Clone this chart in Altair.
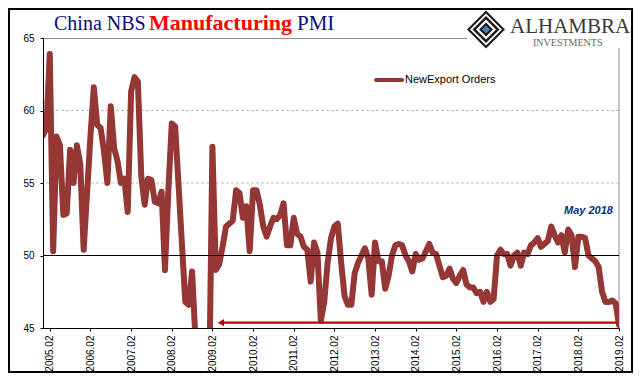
import altair as alt
import pandas as pd

# ---------------- data ----------------
series_name = "NewExport Orders"
first_month = "2004.12"          # index 0 of the series
export_orders = [
    58.3, 58.8, 63.9, 50.3, 58.2, 57.6, 52.8, 52.9, 57.3, 55.0,
    57.6, 56.3, 50.4, 54.3, 58.2, 61.6, 59.0, 58.8, 57.2, 55.0,
    60.3, 57.4, 56.5, 55.0, 55.3, 53.0, 61.3, 62.3, 62.0, 55.5,
    53.5, 55.3, 55.2, 53.7, 53.6, 54.4, 49.0, 54.5, 59.1, 58.9,
    54.9, 50.8, 46.8, 46.6, 48.9, 44.2, 32.0, 34.0, 36.0, 40.0,
    57.5, 49.0, 49.4, 50.6, 52.0, 52.2, 52.4, 54.5, 54.3, 52.6,
    53.4, 50.3, 54.5, 54.5, 53.5, 52.0, 51.3, 52.0, 52.6, 52.5,
    52.8, 53.6, 50.7, 50.7, 52.6, 51.5, 51.3, 50.6, 50.4, 48.2,
    50.9, 50.2, 45.5, 46.8, 49.5, 51.2, 52.0, 52.2, 49.5, 47.2,
    46.6, 46.6, 48.8, 49.5, 50.0, 50.5, 49.8, 47.3, 50.9, 49.6,
    49.6, 47.7, 48.6, 50.0, 50.7, 50.8, 50.7, 50.0, 49.6, 48.9,
    50.1, 49.7, 49.8, 50.3, 50.8, 50.2, 50.1, 49.3, 48.5, 48.6,
    49.1, 48.4, 48.1, 48.6, 49.0, 48.0, 47.8, 47.8, 47.4, 47.5,
    46.8, 47.5, 46.8, 47.0, 50.0, 50.4, 50.1, 50.1, 49.3, 50.0,
    50.2, 49.3, 50.2, 50.1, 50.7, 50.9, 51.2, 50.6, 50.8, 51.0,
    52.0, 51.4, 50.9, 51.4, 50.2, 51.8, 51.4, 49.2, 51.3, 51.3,
    51.2, 50.0, 49.8, 49.6, 49.2, 47.5, 46.8, 46.8, 46.9, 46.7,
    45.2,
]
tick_labels = ["2005.02", "2006.02", "2007.02", "2008.02", "2009.02",
               "2010.02", "2011.02", "2012.02", "2013.02", "2014.02",
               "2015.02", "2016.02", "2017.02", "2018.02", "2019.02"]
y_ticks = [45, 50, 55, 60, 65]
reference_level = 50
title_parts = ["China NBS", "Manufacturing", "PMI"]
annotation_text = "May 2018"
annotation_label = "2018.05"
annotation_value = 53.1
arrow_level = 45.37
arrow_from_label = "2019.01"
arrow_to_label = "2009.04"


def month_index(label):
    y0, m0 = map(int, first_month.split("."))
    y, m = map(int, label.split("."))
    return (y - y0) * 12 + (m - m0)


n = len(export_orders)
df = pd.DataFrame({"t": list(range(n)), "value": export_orders})
tick_pos = [month_index(l) for l in tick_labels]
label_expr = ("[" + ",".join("'%s'" % l for l in tick_labels) + "]"
              "[round((datum.value - %d) / 12)]" % tick_pos[0])

one = pd.DataFrame({"k": [0]})
xs = alt.Scale(domain=[0, n - 1], nice=False, zero=False)
ys = alt.Scale(domain=[y_ticks[0], y_ticks[-1]], nice=False, zero=False)

x_axis = alt.Axis(values=tick_pos, labelExpr=label_expr, title=None, grid=False,
                  labelAngle=270, labelAlign="right", labelBaseline="middle",
                  labelFont="Liberation Sans", labelFontSize=10, labelColor="black",
                  labelPadding=4, tickSize=3, tickColor="black", domainColor="black",
                  labelOverlap=False, labelFlush=False, zindex=1)
y_axis = alt.Axis(values=y_ticks, title=None, grid=False,
                  labelFont="Liberation Sans", labelFontSize=10, labelColor="black",
                  labelPadding=6, tickSize=3, tickColor="black", domainColor="black",
                  zindex=1)

W, H = 576, 290
LINE = "#953735"
NAVY = "#0b0b7d"

# ---------------- layers ----------------
frame = alt.Chart(one).mark_rect(fill="white", fillOpacity=0, stroke="black", strokeWidth=2).encode(
    x=alt.value(-34), x2=alt.value(589), y=alt.value(-29), y2=alt.value(334))

grid_df = pd.DataFrame({"g": [v for v in y_ticks if y_ticks[0] < v < y_ticks[-1] and v != reference_level]})
grid = alt.Chart(grid_df).mark_rule(color="#bdbdbd", strokeWidth=1, strokeDash=[3, 2]).encode(
    y=alt.Y("g:Q", scale=ys, axis=y_axis))

top_line = alt.Chart(one).mark_rule(color="#8c8c8c", strokeWidth=1).encode(
    x=alt.value(0), x2=alt.value(424), y=alt.value(0.5))
right_line = alt.Chart(one).mark_rule(color="#8c8c8c", strokeWidth=1).encode(
    x=alt.value(W), y=alt.value(10), y2=alt.value(H))

line = alt.Chart(df).mark_line(color=LINE, strokeWidth=6, clip=True,
                               strokeCap="round", strokeJoin="round").encode(
    x=alt.X("t:Q", scale=xs, axis=x_axis),
    y=alt.Y("value:Q", scale=ys, axis=y_axis),
)

ref_rule = alt.Chart(one).mark_rule(color="black", strokeWidth=1).encode(
    y=alt.Y(datum=reference_level, scale=ys, axis=y_axis))

arrow_df = pd.DataFrame({"a": [month_index(arrow_to_label) + 0.5],
                         "b": [month_index(arrow_from_label) + 0.3],
                         "lvl": [arrow_level]})
arrow_line = alt.Chart(arrow_df).mark_rule(color="#c00000", strokeWidth=2.3).encode(
    x=alt.X("a:Q", scale=xs, axis=x_axis), x2="b:Q",
    y=alt.Y("lvl:Q", scale=ys, axis=y_axis))
arrow_head = alt.Chart(arrow_df).mark_point(shape="triangle-left", filled=True, color="#c00000",
                                            size=55, opacity=1).encode(
    x=alt.X("a:Q", scale=xs, axis=x_axis), y=alt.Y("lvl:Q", scale=ys, axis=y_axis))

legend_line = alt.Chart(one).mark_rule(color=LINE, strokeWidth=4, strokeCap="round").encode(
    x=alt.value(333), x2=alt.value(359), y=alt.value(42))
legend_text = alt.Chart(one).mark_text(text=series_name, align="left", baseline="middle",
                                       font="Liberation Sans", fontSize=11, color="black").encode(
    x=alt.value(362), y=alt.value(42))

t1 = alt.Chart(one).mark_text(text=title_parts[0], align="left", baseline="alphabetic",
                              font="Liberation Serif", fontSize=20, color=NAVY).encode(
    x=alt.value(11), y=alt.value(-8))
t2 = alt.Chart(one).mark_text(text=title_parts[1], align="left", baseline="alphabetic",
                              font="Liberation Serif", fontSize=22, fontWeight="bold",
                              color="#ff0000").encode(x=alt.value(106), y=alt.value(-8))
t3 = alt.Chart(one).mark_text(text=title_parts[2], align="left", baseline="alphabetic",
                              font="Liberation Serif", fontSize=21, color=NAVY).encode(
    x=alt.value(254), y=alt.value(-8))

logo_layers = []
for size, col in [(38, "#1a1a1a"), (32, "white"), (27, "#1a1a1a"), (20, "white"),
                  (14, "#1a1a1a"), (8, "#4a7cc4")]:
    logo_layers.append(alt.Chart(one).mark_point(shape="diamond", filled=True, color=col,
                                                 size=size * size, opacity=1).encode(
        x=alt.value(443), y=alt.value(-8.5)))
logo_word = alt.Chart(one).mark_text(text="ALHAMBRA", align="left", baseline="alphabetic",
                                     font="Liberation Serif", fontSize=21, color="#3a3a3a").encode(
    x=alt.value(467), y=alt.value(-5))
logo_sub = alt.Chart(one).mark_text(text="INVESTMENTS", align="left", baseline="alphabetic",
                                    font="Liberation Serif", fontSize=10, color="#666666").encode(
    x=alt.value(490), y=alt.value(8))

ann_df = pd.DataFrame({"t": [month_index(annotation_label)], "v": [annotation_value],
                       "txt": [annotation_text]})
annotation = alt.Chart(ann_df).mark_text(align="center", baseline="middle", font="Liberation Sans",
                                         fontSize=11, fontStyle="italic", fontWeight="bold",
                                         color="#0e2d84").encode(
    x=alt.X("t:Q", scale=xs, axis=x_axis), y=alt.Y("v:Q", scale=ys, axis=y_axis), text="txt:N")

chart = alt.layer(
    frame, grid, top_line, right_line, line, ref_rule, arrow_line, arrow_head,
    legend_line, legend_text, t1, t2, t3, *logo_layers, logo_word, logo_sub, annotation,
).properties(
    width=W, height=H, autosize="none",
    padding={"left": 35, "top": 30, "right": 14, "bottom": 45},
    background="white",
).configure_view(stroke=None)

chart.save("out.html", embed_options={"renderer": "svg", "actions": False})
